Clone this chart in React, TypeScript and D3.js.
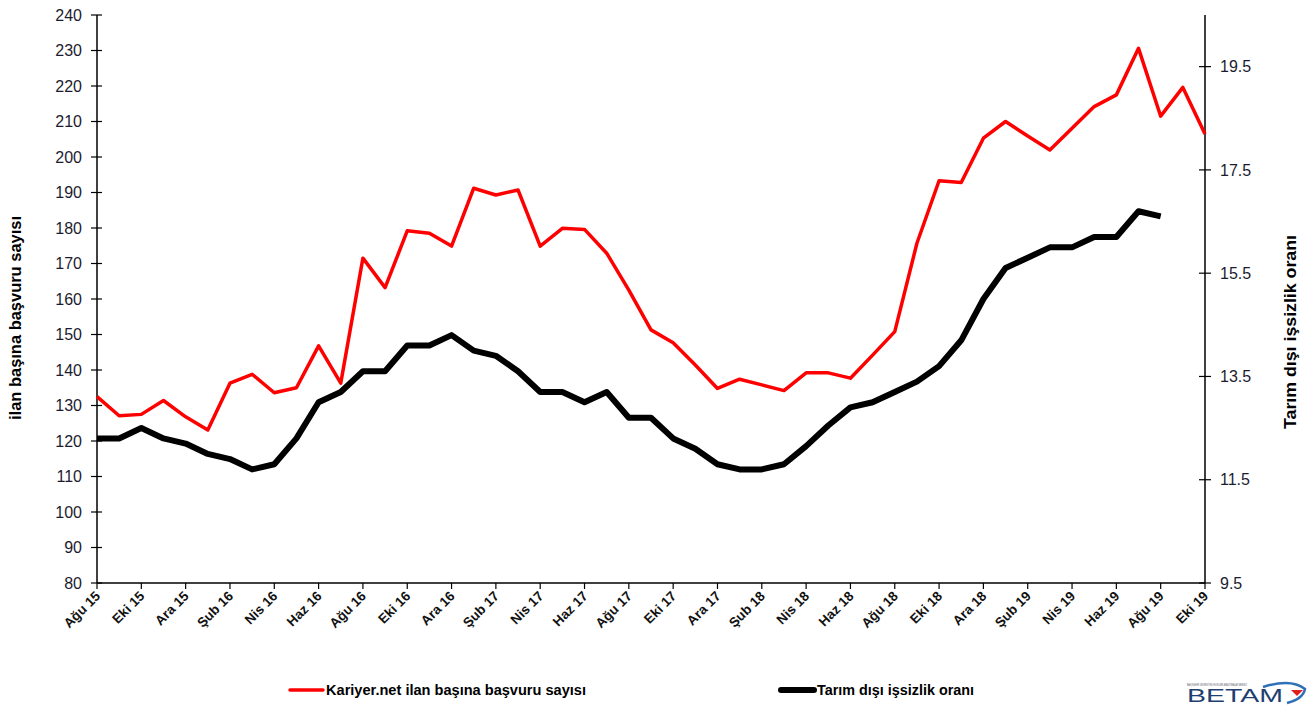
import * as d3 from "d3";
import { useEffect, useRef } from "react";

// months from Ağu 15 to Eki 19
const monthNames = ["Oca", "Şub", "Mar", "Nis", "May", "Haz", "Tem", "Ağu", "Eyl", "Eki", "Kas", "Ara"];
const months: string[] = [];
for (let k = 0; k < 51; k++) {
  const m = (7 + k) % 12;
  const y = 15 + Math.floor((7 + k) / 12);
  months.push(`${monthNames[m]} ${y}`);
}

// Kariyer.net ilan başına başvuru sayısı (left axis)
const applications = [
  132.5, 127.1, 127.5, 131.4, 126.8, 123.1, 136.3, 138.8, 133.6, 135.0,
  146.8, 136.3, 171.5, 163.2, 179.2, 178.5, 174.9, 191.2, 189.3, 190.7,
  174.9, 179.9, 179.6, 172.9, 162.5, 151.3, 147.7, 141.4, 134.8, 137.4,
  135.8, 134.2, 139.2, 139.2, 137.7, 144.2, 150.8, 175.7, 193.3, 192.8,
  205.3, 210.0, 205.9, 202.0, 208.1, 214.2, 217.5, 230.6, 211.5, 219.6,
  206.5,
];

// Tarım dışı işsizlik oranı (right axis), ends Ağu 19
const unemployment = [
  12.3, 12.3, 12.5, 12.3, 12.2, 12.0, 11.9, 11.7, 11.8, 12.3,
  13.0, 13.2, 13.6, 13.6, 14.1, 14.1, 14.3, 14.0, 13.9, 13.6,
  13.2, 13.2, 13.0, 13.2, 12.7, 12.7, 12.3, 12.1, 11.8, 11.7,
  11.7, 11.8, 12.15, 12.55, 12.9, 13.0, 13.2, 13.4, 13.7, 14.2,
  15.0, 15.6, 15.8, 16.0, 16.0, 16.2, 16.2, 16.7, 16.6,
];

const leftTicks = d3.range(80, 241, 10);
const rightTicks = [9.5, 11.5, 13.5, 15.5, 17.5, 19.5];

function DualLineChart() {
  const ref = useRef<SVGSVGElement>(null);
  const margin = { top: 15, left: 97 };
  const width = 1108;
  const height = 568;
  const font = "'Liberation Sans', Arial, sans-serif";

  useEffect(() => {
    const root = d3.select(ref.current);
    root.selectAll("*").remove();
    root.attr("font-family", font);

    const svg = root.append("g").attr("transform", `translate(${margin.left},${margin.top})`);

    const x = d3.scaleLinear().domain([0, months.length - 1]).range([0, width]);
    const yLeft = d3.scaleLinear().domain([80, 240]).range([height, 0]);
    const yRight = d3.scaleLinear().domain([9.5, 20.5]).range([height, 0]);

    // left axis
    const left = svg.append("g");
    left.append("line").attr("x1", 0).attr("x2", 0).attr("y1", 0).attr("y2", height)
      .attr("stroke", "#000").attr("stroke-width", 1.5);
    left.selectAll("line.t").data(leftTicks).join("line").attr("class", "t")
      .attr("x1", -6).attr("x2", 5).attr("y1", (d) => yLeft(d)).attr("y2", (d) => yLeft(d))
      .attr("stroke", "#000").attr("stroke-width", 1.2);
    left.selectAll("text").data(leftTicks).join("text")
      .attr("x", -15).attr("y", (d) => yLeft(d)).attr("dy", "0.36em")
      .attr("text-anchor", "end").attr("font-size", 16).attr("fill", "#1c1c30")
      .text((d) => d);

    // right axis
    const right = svg.append("g").attr("transform", `translate(${width},0)`);
    right.append("line").attr("x1", 0).attr("x2", 0).attr("y1", 0).attr("y2", height)
      .attr("stroke", "#000").attr("stroke-width", 1.5);
    right.selectAll("line.t").data(rightTicks).join("line").attr("class", "t")
      .attr("x1", -6).attr("x2", 6).attr("y1", (d) => yRight(d)).attr("y2", (d) => yRight(d))
      .attr("stroke", "#000").attr("stroke-width", 1.2);
    right.selectAll("text").data(rightTicks).join("text")
      .attr("x", 15).attr("y", (d) => yRight(d)).attr("dy", "0.36em")
      .attr("text-anchor", "start").attr("font-size", 16).attr("fill", "#1c1c30")
      .text((d) => d.toFixed(1));

    // x axis
    const labelled = months.map((m, i) => ({ m, i })).filter((d) => d.i % 2 === 0);
    const bottom = svg.append("g").attr("transform", `translate(0,${height})`);
    bottom.append("line").attr("x1", 0).attr("x2", width).attr("stroke", "#000").attr("stroke-width", 1.5);
    bottom.selectAll("line.t").data(labelled).join("line").attr("class", "t")
      .attr("x1", (d) => x(d.i)).attr("x2", (d) => x(d.i)).attr("y1", 0).attr("y2", 6)
      .attr("stroke", "#000").attr("stroke-width", 1.2);
    bottom.selectAll("text").data(labelled).join("text")
      .attr("transform", (d) => `translate(${x(d.i) + 4},${14}) rotate(-45)`)
      .attr("text-anchor", "end").attr("font-size", 13.5).attr("font-weight", "bold")
      .attr("fill", "#111").text((d) => d.m);

    // lines
    const redLine = d3.line<number>().x((_, i) => x(i)).y((d) => yLeft(d));
    const blackLine = d3.line<number>().x((_, i) => x(i)).y((d) => yRight(d));
    svg.append("path").datum(applications).attr("d", redLine)
      .attr("fill", "none").attr("stroke", "#ff0000").attr("stroke-width", 3.5)
      .attr("stroke-linejoin", "round");
    svg.append("path").datum(unemployment).attr("d", blackLine)
      .attr("fill", "none").attr("stroke", "#000").attr("stroke-width", 6)
      .attr("stroke-linejoin", "round");

    // axis titles
    root.append("text")
      .attr("transform", `translate(21,318) rotate(-90)`)
      .attr("text-anchor", "middle").attr("font-size", 16).attr("font-weight", "bold")
      .attr("textLength", 204).attr("lengthAdjust", "spacingAndGlyphs")
      .text("ilan başına başvuru sayısı");
    root.append("text")
      .attr("transform", `translate(1296,332) rotate(-90)`)
      .attr("text-anchor", "middle").attr("font-size", 16).attr("font-weight", "bold")
      .attr("textLength", 194).attr("lengthAdjust", "spacingAndGlyphs")
      .text("Tarım dışı işsizlik oranı");

    // legend
    const legend = [
      { label: "Kariyer.net ilan başına başvuru sayısı", color: "#ff0000", w: 3.5, x: 290, len: 260 },
      { label: "Tarım dışı işsizlik oranı", color: "#000", w: 6, x: 781, len: 157 },
    ];
    const lg = root.append("g").selectAll("g").data(legend).join("g")
      .attr("transform", (d) => `translate(${d.x},690)`);
    lg.append("line").attr("x1", 0).attr("x2", 33).attr("stroke", (d) => d.color)
      .attr("stroke-width", (d) => d.w).attr("stroke-linecap", "round");
    lg.append("text").attr("x", 36).attr("dy", "0.36em").attr("font-size", 14)
      .attr("font-weight", "bold").attr("textLength", (d) => d.len)
      .attr("lengthAdjust", "spacingAndGlyphs").text((d) => d.label);

    // BETAM logo
    const logo = root.append("g").attr("transform", "translate(1187,702)");
    logo.append("text").attr("font-size", 18).attr("fill", "#1f3f73")
      .attr("textLength", 96).attr("lengthAdjust", "spacingAndGlyphs").text("BETAM");
    logo.append("text").attr("y", -16).attr("font-size", 3.5).attr("fill", "#556")
      .attr("textLength", 60).attr("lengthAdjust", "spacingAndGlyphs")
      .text("BAHÇEŞEHİR ÜNİVERSİTESİ EKONOMİK ARAŞTIRMALAR MERKEZİ");
    logo.append("path").attr("d", "M76,-15 Q104,-24 118,-13 Q116,-3 100,1")
      .attr("fill", "none").attr("stroke", "#2f6fb5").attr("stroke-width", 2.5);
    logo.append("path").attr("d", "M104,-12 L116,-12 L110,-6 Z").attr("fill", "#e02020");
  }, []);

  return (
    <svg ref={ref} width={1309} height={706}
      style={{ position: "absolute", left: 0, top: 0, background: "#fff" }} />
  );
}

export default function App() {
  return <DualLineChart />;
}
